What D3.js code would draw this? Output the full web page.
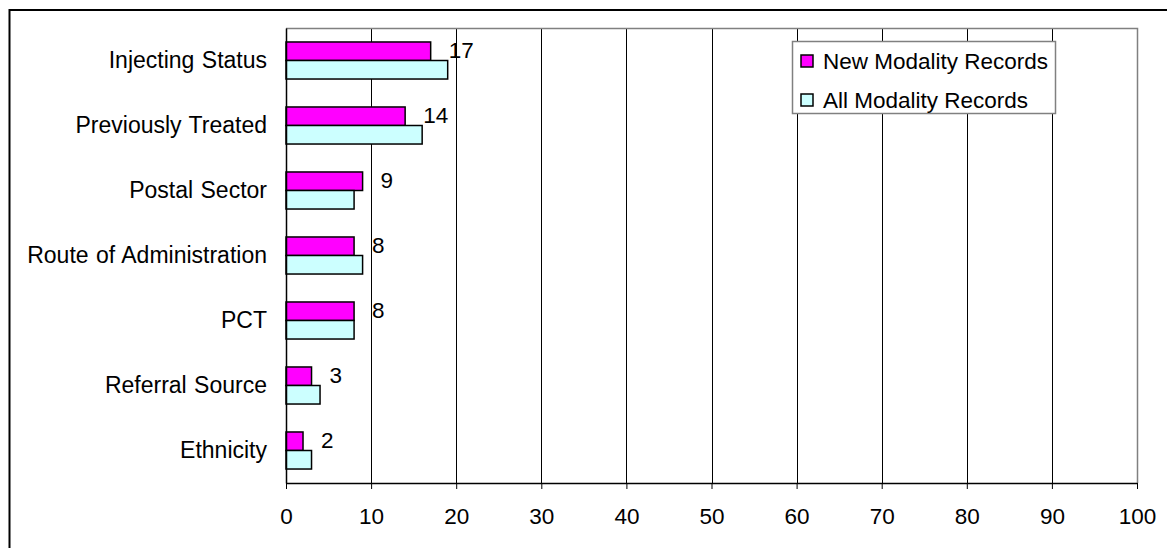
<!DOCTYPE html>
<html>
<head>
<meta charset="utf-8">
<script src="https://cdn.jsdelivr.net/npm/d3@7"></script>
<style>
body{margin:0;background:#fff;}
svg text{font-family:"Liberation Sans",Arial,sans-serif;fill:#000;}
</style>
</head>
<body>
<div id="modality-bar"></div>
<script>
var categories = ['Injecting Status','Previously Treated','Postal Sector','Route of Administration','PCT','Referral Source','Ethnicity'];
var newRecords = [17,14,9,8,8,3,2];
var allRecords = [19,16,8,9,8,4,3];
var seriesNames = ['New Modality Records','All Modality Records'];
var seriesColors = ['#ff00ff','#ccffff'];
var xTicks = [0,10,20,30,40,50,60,70,80,90,100];

var rows = categories.map(function(c,i){
	return {key:c,values:[newRecords[i],allRecords[i]]};
});

var buildChart = function(){
	var W = 1167, H = 548;
	var margin = {top:28,right:30,bottom:65,left:286};
	var width = W-margin.left-margin.right,
	height = H-margin.top-margin.bottom;

	var svg = d3.select('#modality-bar').append('svg')
		.attr('width',W).attr('height',H);

	// outer frame, cut by the picture on right and bottom
	svg.append('rect')
		.attr('x',9.5).attr('y',10).attr('width',W).attr('height',H)
		.attr('fill','none').attr('stroke','#000').attr('stroke-width',2);

	var g = svg.append('g').attr('transform','translate('+margin.left+','+margin.top+')');

	var xScale = d3.scaleLinear().domain([0,100]).range([0,width]);
	var yScale = d3.scaleBand().domain(categories).range([0,height])
		.paddingInner(0.43).paddingOuter(0.215);
	var ySub = d3.scaleBand().domain([0,1]).range([0,yScale.bandwidth()]);

	// gridlines
	g.selectAll('.grid').data(xTicks.slice(1,-1)).join('line')
		.classed('grid',true)
		.attr('x1',d=>Math.round(xScale(d))+0.5).attr('x2',d=>Math.round(xScale(d))+0.5)
		.attr('y1',0).attr('y2',height)
		.attr('stroke','#000').attr('stroke-width',1);

	// plot border top + right (grey)
	g.append('path')
		.attr('d','M0,0.5H'+(Math.round(width)+0.5)+'V'+height)
		.attr('fill','none').attr('stroke','#808080').attr('stroke-width',1.5);

	// bars
	var groups = g.selectAll('.cat').data(rows).join('g')
		.classed('cat',true)
		.attr('transform',d=>'translate(0,'+yScale(d.key)+')');

	groups.selectAll('rect').data(d=>d.values).join('rect')
		.attr('x',xScale(0))
		.attr('y',(d,i)=>ySub(i))
		.attr('width',d=>xScale(d)-xScale(0))
		.attr('height',ySub.bandwidth())
		.attr('fill',(d,i)=>seriesColors[i])
		.attr('stroke','#000').attr('stroke-width',1.5);

	// data labels for new records
	groups.append('text')
		.attr('x',d=>xScale(d.values[0])+18)
		.attr('y',ySub(0)+ySub.bandwidth()/2)
		.attr('dy','0.3em')
		.style('font-size','22.5px')
		.text(d=>d.values[0]);

	// x axis
	var xAxis = d3.axisBottom(xScale).tickValues(xTicks).tickSize(6).tickPadding(19).tickSizeOuter(0);
	var ax = g.append('g').attr('transform','translate(0,'+height+')').call(xAxis);
	ax.select('.domain').attr('stroke','#000').attr('stroke-width',1.5);
	ax.selectAll('.tick line').attr('stroke','#000').attr('stroke-width',1);
	ax.selectAll('text').style('font-size','22.5px').attr('fill','#000');

	// y axis
	var yAxis = d3.axisLeft(yScale).tickSize(0).tickPadding(19);
	var ay = g.append('g').call(yAxis);
	ay.select('.domain').attr('stroke','#000').attr('stroke-width',1.5);
	ay.selectAll('text').style('font-size','23px').style('word-spacing','1px').attr('fill','#000');

	// legend
	var lg = svg.append('g').attr('transform','translate(792,41)');
	lg.append('rect').attr('x',0.5).attr('y',0.5).attr('width',263).attr('height',72)
		.attr('fill','#fff').attr('stroke','#808080').attr('stroke-width',1.5);
	var items = lg.selectAll('.item').data(seriesNames).join('g')
		.classed('item',true)
		.attr('transform',(d,i)=>'translate(9,'+(14+i*39)+')');
	items.append('rect').attr('width',12).attr('height',12)
		.attr('fill',(d,i)=>seriesColors[i]).attr('stroke','#000').attr('stroke-width',1.5);
	items.append('text').attr('x',22).attr('y',6).attr('dy','0.35em')
		.style('font-size','22.5px').text(d=>d);
}

buildChart()
</script>
</body>
</html>
